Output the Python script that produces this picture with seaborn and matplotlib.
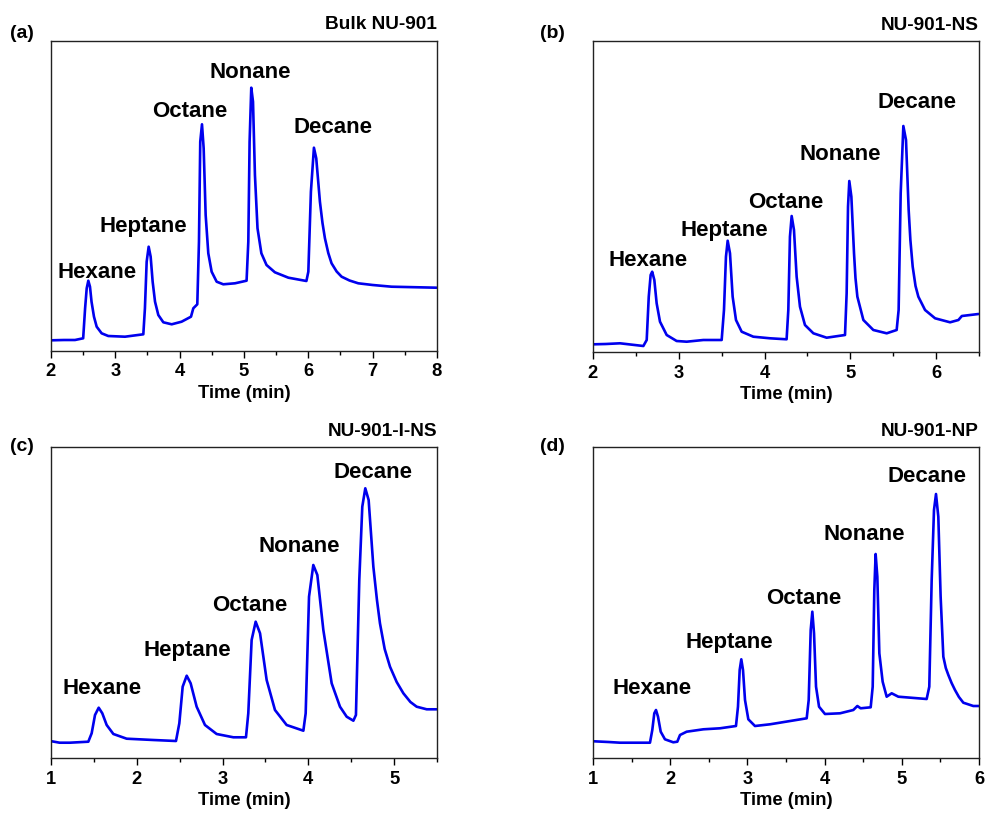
import numpy as np
import pandas as pd
import matplotlib
matplotlib.use("Agg")
import matplotlib.pyplot as plt
from matplotlib.ticker import MultipleLocator
import seaborn as sns

# ---------------- data (time in min, signal in arbitrary units) ----------------
time_a = [2.01, 2.20, 2.373, 2.50, 2.53, 2.555, 2.58, 2.606, 2.63, 2.668, 2.71, 2.787, 2.89,
          3.15, 3.435, 3.46, 3.487, 3.518, 3.549, 3.58, 3.617, 3.668, 3.746, 3.876, 4.03,
          4.176, 4.212, 4.274, 4.30, 4.32, 4.347, 4.373, 4.404, 4.445, 4.497, 4.575, 4.678,
          4.86, 5.04, 5.067, 5.087, 5.113, 5.14, 5.17, 5.21, 5.27, 5.35, 5.48, 5.69, 5.97,
          6.00, 6.04, 6.087, 6.123, 6.18, 6.22, 6.258, 6.31, 6.361, 6.44, 6.517, 6.64, 6.776,
          7.00, 7.294, 7.993]
sig_a = [10.7, 11, 11, 12.7, 42.7, 62.7, 70.3, 64.3, 49.3, 34.3, 24.3, 17.7, 15,
         14.3, 16.7, 42.7, 89.3, 104.3, 94.3, 69.3, 49.3, 36, 28.7, 26.7, 29.3,
         34.3, 42.7, 46.7, 109.3, 209.3, 226.7, 202.7, 136, 97.7, 79.3, 69.3, 66.7,
         67.7, 70.3, 109.3, 209.3, 263.3, 249.3, 176, 122.7, 97.7, 86, 78.7, 73.3, 70,
         79.3, 159.3, 203.3, 192.7, 149.3, 128, 112.7, 98, 87.7, 79.5, 74.3, 70.5, 67.7,
         66, 64.3, 63.3]

time_b = [2.01, 2.15, 2.315, 2.587, 2.626, 2.65, 2.672, 2.69, 2.715, 2.742, 2.781, 2.859,
          2.975, 3.092, 3.286, 3.50, 3.527, 3.55, 3.57, 3.597, 3.628, 3.667, 3.733, 3.869,
          4.064, 4.257, 4.277, 4.296, 4.316, 4.343, 4.374, 4.413, 4.471, 4.569, 4.724,
          4.938, 4.957, 4.973, 4.988, 5.012, 5.043, 5.06, 5.082, 5.152, 5.268, 5.424, 5.54,
          5.563, 5.587, 5.618, 5.649, 5.68, 5.70, 5.727, 5.76, 5.793, 5.871, 5.988, 6.163,
          6.26, 6.30, 6.494]
sig_b = [7.7, 8, 8.7, 6, 12, 55.3, 77, 80.3, 72, 48.7, 30.3, 17,
         11, 10.3, 12, 12, 42, 95.3, 111.3, 98.7, 55.3, 32, 20.3, 15.3,
         13.7, 12.7, 42, 115.3, 136, 122, 75.3, 45.3, 27, 18.7, 14.3,
         17, 58.7, 145.3, 171, 155.3, 98.7, 74, 55.3, 32, 22, 18.7, 22,
         42, 158.7, 226, 212, 142, 112, 85.3, 66, 55.3, 42, 33.7, 29.7,
         32, 36, 38]

time_c = [1.01, 1.10, 1.221, 1.435, 1.474, 1.513, 1.556, 1.598, 1.649, 1.727, 1.882, 2.193,
          2.457, 2.496, 2.535, 2.582, 2.628, 2.698, 2.795, 2.931, 3.126, 3.273, 3.30, 3.339,
          3.386, 3.437, 3.514, 3.611, 3.747, 3.942, 3.969, 4.008, 4.058, 4.105, 4.175,
          4.272, 4.369, 4.447, 4.525, 4.555, 4.594, 4.629, 4.664, 4.703, 4.758, 4.80, 4.835,
          4.89, 4.952, 5.03, 5.108, 5.19, 5.263, 5.38, 5.496]
sig_c = [16.7, 15.3, 15.3, 16.3, 24.7, 43, 50.3, 44.7, 33, 24, 19.3, 18,
         17, 34.7, 71.3, 82.3, 74.7, 51.3, 33, 24, 20.7, 20.7, 44.7, 118,
         136.3, 124.7, 78, 48, 33, 27.3, 44.7, 161.3, 193, 183, 128,
         74.7, 51.3, 41.3, 37.3, 43, 178, 251.3, 269.7, 258, 191.3, 158, 134.7,
         109, 91.3, 76, 64.7, 56, 51.3, 48.7, 48.7]

time_d = [1.01, 1.20, 1.35, 1.738, 1.768, 1.794, 1.816, 1.842, 1.877, 1.932, 2.04, 2.092,
          2.127, 2.213, 2.43, 2.645, 2.852, 2.878, 2.90, 2.921, 2.943, 2.969, 3.012, 3.098,
          3.293, 3.768, 3.794, 3.82, 3.841, 3.863, 3.889, 3.928, 4.005, 4.20, 4.372, 4.424,
          4.467, 4.597, 4.623, 4.644, 4.661, 4.683, 4.709, 4.752, 4.804, 4.869, 4.955,
          5.322, 5.356, 5.387, 5.417, 5.443, 5.473, 5.503, 5.538, 5.57, 5.603, 5.645, 5.689,
          5.74, 5.797, 5.926, 6.00]
sig_d = [16.7, 16, 15.3, 15.3, 28, 44.7, 48, 41.3, 26.3, 18.7, 15.7, 16.3,
         23, 26.3, 28.7, 29.7, 32, 51.3, 88, 98.7, 88, 58, 38.7, 32,
         33.7, 39.7, 58, 128, 146.3, 124.7, 71.3, 51.3, 44, 44.7, 48, 52,
         49.7, 50.7, 71.3, 168, 204, 181.3, 104.7, 76.3, 61.3, 64.7, 61.3,
         59, 71.3, 178, 248, 264, 241.3, 161.3, 101.3, 90, 83, 75, 68,
         61, 55.3, 52, 52]

compounds = ["Hexane", "Heptane", "Octane", "Nonane", "Decane"]
label_t_a = [2.72, 3.44, 4.16, 5.09, 6.39]
label_s_a = [79, 124, 239, 278, 223]
label_t_b = [2.64, 3.53, 4.25, 4.88, 5.78]
label_s_b = [91.7, 121.7, 149, 197.7, 249]
label_t_c = [1.60, 2.59, 3.32, 3.89, 4.75]
label_s_c = [69.3, 107.7, 152.7, 211.7, 286]
label_t_d = [1.76, 2.76, 3.73, 4.52, 5.32]
label_s_d = [69.3, 116, 160, 223.7, 281.7]

titles = ["Bulk NU-901", "NU-901-NS", "NU-901-I-NS", "NU-901-NP"]
panel_tags = ["(a)", "(b)", "(c)", "(d)"]
xlims = [(2, 8), (2, 6.5), (1, 5.5), (1, 6)]

# ---------------- style ----------------
sns.set_style("white")
plt.rcParams["font.family"] = ["Liberation Sans", "DejaVu Sans"]
plt.rcParams["font.weight"] = "bold"
plt.rcParams["text.color"] = "black"
plt.rcParams["axes.labelcolor"] = "black"
plt.rcParams["xtick.color"] = "black"

W, H = 987, 821
fig = plt.figure(figsize=(W / 100, H / 100), dpi=100)

# axes boxes in pixels: left, right, top, bottom
boxes = [(51, 437, 41, 351), (593, 979, 41, 352), (51, 437, 447, 758), (593, 979, 447, 758)]
tag_pos = [(22, 34), (552, 34), (22, 446), (552, 446)]

series = [(time_a, sig_a, label_t_a, label_s_a),
          (time_b, sig_b, label_t_b, label_s_b),
          (time_c, sig_c, label_t_c, label_s_c),
          (time_d, sig_d, label_t_d, label_s_d)]

line_color = "#0000ee"

for i, (box, (tt, ss, lt, ls)) in enumerate(zip(boxes, series)):
    l, r, t, b = box
    ax = fig.add_axes([l / W, 1 - b / H, (r - l) / W, (b - t) / H])
    df = pd.DataFrame({"Time": tt, "Signal": ss})
    sns.lineplot(data=df, x="Time", y="Signal", ax=ax, color=line_color,
                 linewidth=1.9, sort=False, estimator=None)
    ax.lines[0].set_solid_joinstyle("round")
    ax.set_xlim(*xlims[i])
    ax.set_ylim(0, b - t)
    ax.set_yticks([])
    ax.set_ylabel("")
    ax.set_xlabel("Time (min)", fontsize=13.2, fontweight="bold", labelpad=3)
    ax.xaxis.set_major_locator(MultipleLocator(1))
    ax.xaxis.set_minor_locator(MultipleLocator(0.5))
    ax.tick_params(axis="x", which="major", direction="out", length=5, width=1,
                   labelsize=13.2, pad=4, bottom=True, top=False)
    ax.tick_params(axis="x", which="minor", direction="out", length=3, width=1,
                   bottom=True, top=False)
    for lab in ax.get_xticklabels():
        lab.set_fontweight("bold")
    for sp in ax.spines.values():
        sp.set_visible(True)
        sp.set_color("#222222")
        sp.set_linewidth(1.0)
    for name, x, y in zip(compounds, lt, ls):
        ax.text(x, y, name, ha="center", va="center", fontsize=16, fontweight="bold")
    ax.text(1.0, 1 + 16 / (b - t), titles[i], transform=ax.transAxes, ha="right",
            va="center", fontsize=13.7, fontweight="bold")
    tx, ty = tag_pos[i]
    fig.text(tx / W, 1 - ty / H, panel_tags[i], ha="center", va="center",
             fontsize=14, fontweight="bold")

fig.savefig("out.png", dpi=100)
